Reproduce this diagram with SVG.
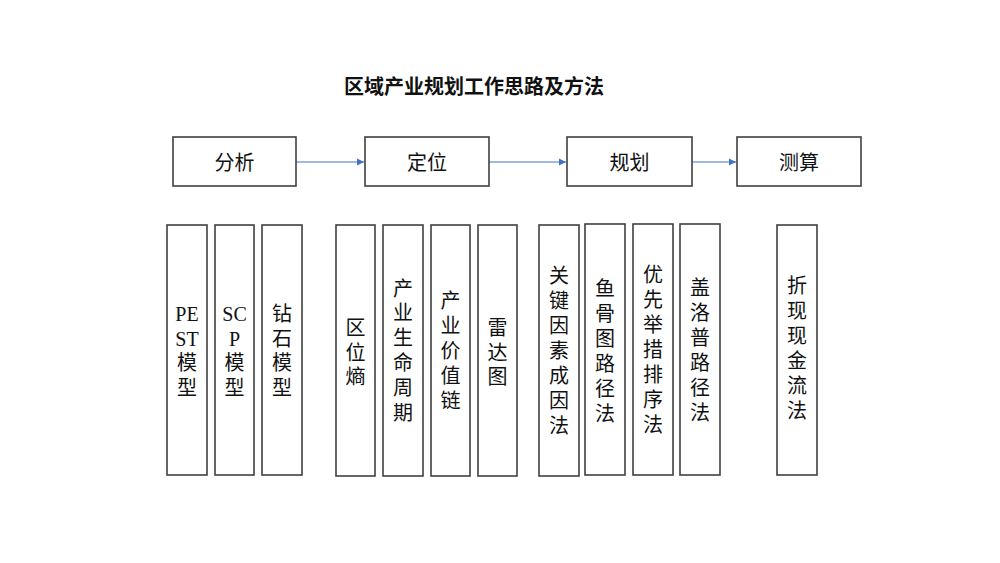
<svg xmlns="http://www.w3.org/2000/svg" width="1000" height="563" viewBox="0 0 1000 563">
<style>
.box{fill:#fff;stroke:#404040;stroke-width:1.6}
.top{font-family:"Noto Sans CJK SC","Noto Sans",sans-serif;font-size:20px;fill:#111;text-anchor:middle;dominant-baseline:central}
.v{font-family:"Liberation Serif","Noto Sans CJK SC",serif;font-size:20px;fill:#111;text-anchor:middle;dominant-baseline:central}
.title{font-family:"Noto Sans CJK SC","Noto Sans",sans-serif;font-size:20px;font-weight:bold;fill:#111;text-anchor:middle;dominant-baseline:central}
.conn{stroke:#4472C4;stroke-width:1.2;fill:none}
</style>
<defs>
<marker id="arr" markerWidth="8" markerHeight="8" refX="7" refY="4" orient="auto" markerUnits="userSpaceOnUse">
<path d="M0,0.5 L7,4 L0,7.5 Z" fill="#4472C4"/>
</marker>
</defs>
<rect width="1000" height="563" fill="#fff"/>
<text class="title" x="474" y="85">区域产业规划工作思路及方法</text>
<g id="connectors">
<line class="conn" x1="296" y1="162" x2="364" y2="162" marker-end="url(#arr)"/>
<line class="conn" x1="489" y1="162" x2="566" y2="162" marker-end="url(#arr)"/>
<line class="conn" x1="692" y1="162" x2="736" y2="162" marker-end="url(#arr)"/>
</g>
<g id="n-fenxi"><rect class="box" x="173" y="137" width="123" height="49"/><text class="top" x="234.5" y="161.5">分析</text></g>
<g id="n-dingwei"><rect class="box" x="365" y="137" width="124" height="49"/><text class="top" x="427" y="161.5">定位</text></g>
<g id="n-guihua"><rect class="box" x="567" y="137" width="125" height="49"/><text class="top" x="629.5" y="161.5">规划</text></g>
<g id="n-cesuan"><rect class="box" x="737" y="137" width="124" height="49"/><text class="top" x="799" y="161.5">测算</text></g>

<g id="n-pest"><rect class="box" x="167" y="225" width="40" height="250"/>
<text class="v"><tspan x="187" y="314">PE</tspan><tspan x="187" y="338.5">ST</tspan><tspan x="187" y="363">模</tspan><tspan x="187" y="387.5">型</tspan></text></g>
<g id="n-scp"><rect class="box" x="215" y="225" width="39" height="250"/>
<text class="v"><tspan x="234.5" y="314">SC</tspan><tspan x="234.5" y="338.5">P</tspan><tspan x="234.5" y="363">模</tspan><tspan x="234.5" y="387.5">型</tspan></text></g>
<g id="n-zuanshi"><rect class="box" x="262" y="225" width="40" height="250"/>
<text class="v"><tspan x="282" y="314">钻</tspan><tspan x="282" y="338.5">石</tspan><tspan x="282" y="363">模</tspan><tspan x="282" y="387.5">型</tspan></text></g>

<g id="n-quweishang"><rect class="box" x="336" y="225" width="39" height="251"/>
<text class="v"><tspan x="355.5" y="328">区</tspan><tspan x="355.5" y="352.5">位</tspan><tspan x="355.5" y="377">熵</tspan></text></g>
<g id="n-shengmingzhouqi"><rect class="box" x="383" y="225" width="40" height="251"/>
<text class="v"><tspan x="403" y="288.5">产</tspan><tspan x="403" y="313">业</tspan><tspan x="403" y="338">生</tspan><tspan x="403" y="362.5">命</tspan><tspan x="403" y="387.5">周</tspan><tspan x="403" y="412.5">期</tspan></text></g>
<g id="n-jiazhilian"><rect class="box" x="431" y="225" width="39" height="251"/>
<text class="v"><tspan x="450.5" y="300.5">产</tspan><tspan x="450.5" y="325.5">业</tspan><tspan x="450.5" y="350.5">价</tspan><tspan x="450.5" y="375.5">值</tspan><tspan x="450.5" y="400.5">链</tspan></text></g>
<g id="n-leidatu"><rect class="box" x="478" y="225" width="39" height="251"/>
<text class="v"><tspan x="497.5" y="328">雷</tspan><tspan x="497.5" y="352.5">达</tspan><tspan x="497.5" y="377">图</tspan></text></g>

<g id="n-guanjian"><rect class="box" x="539" y="225" width="40" height="251"/>
<text class="v"><tspan x="559" y="276">关</tspan><tspan x="559" y="301">键</tspan><tspan x="559" y="326">因</tspan><tspan x="559" y="351">素</tspan><tspan x="559" y="376">成</tspan><tspan x="559" y="401">因</tspan><tspan x="559" y="426">法</tspan></text></g>
<g id="n-yugu"><rect class="box" x="585" y="224" width="40" height="251"/>
<text class="v"><tspan x="605" y="288.5">鱼</tspan><tspan x="605" y="313.5">骨</tspan><tspan x="605" y="338.5">图</tspan><tspan x="605" y="363.5">路</tspan><tspan x="605" y="388.5">径</tspan><tspan x="605" y="413.5">法</tspan></text></g>
<g id="n-youxian"><rect class="box" x="633" y="224" width="40" height="251"/>
<text class="v"><tspan x="653" y="275">优</tspan><tspan x="653" y="300">先</tspan><tspan x="653" y="325">举</tspan><tspan x="653" y="350">措</tspan><tspan x="653" y="375">排</tspan><tspan x="653" y="400">序</tspan><tspan x="653" y="425">法</tspan></text></g>
<g id="n-gailuopu"><rect class="box" x="680" y="224" width="40" height="251"/>
<text class="v"><tspan x="700" y="287.5">盖</tspan><tspan x="700" y="312.5">洛</tspan><tspan x="700" y="337.5">普</tspan><tspan x="700" y="362.5">路</tspan><tspan x="700" y="387.5">径</tspan><tspan x="700" y="412.5">法</tspan></text></g>

<g id="n-zhexian"><rect class="box" x="777" y="225" width="40" height="250"/>
<text class="v"><tspan x="797" y="286">折</tspan><tspan x="797" y="311">现</tspan><tspan x="797" y="336">现</tspan><tspan x="797" y="361">金</tspan><tspan x="797" y="386">流</tspan><tspan x="797" y="411">法</tspan></text></g>
</svg>
